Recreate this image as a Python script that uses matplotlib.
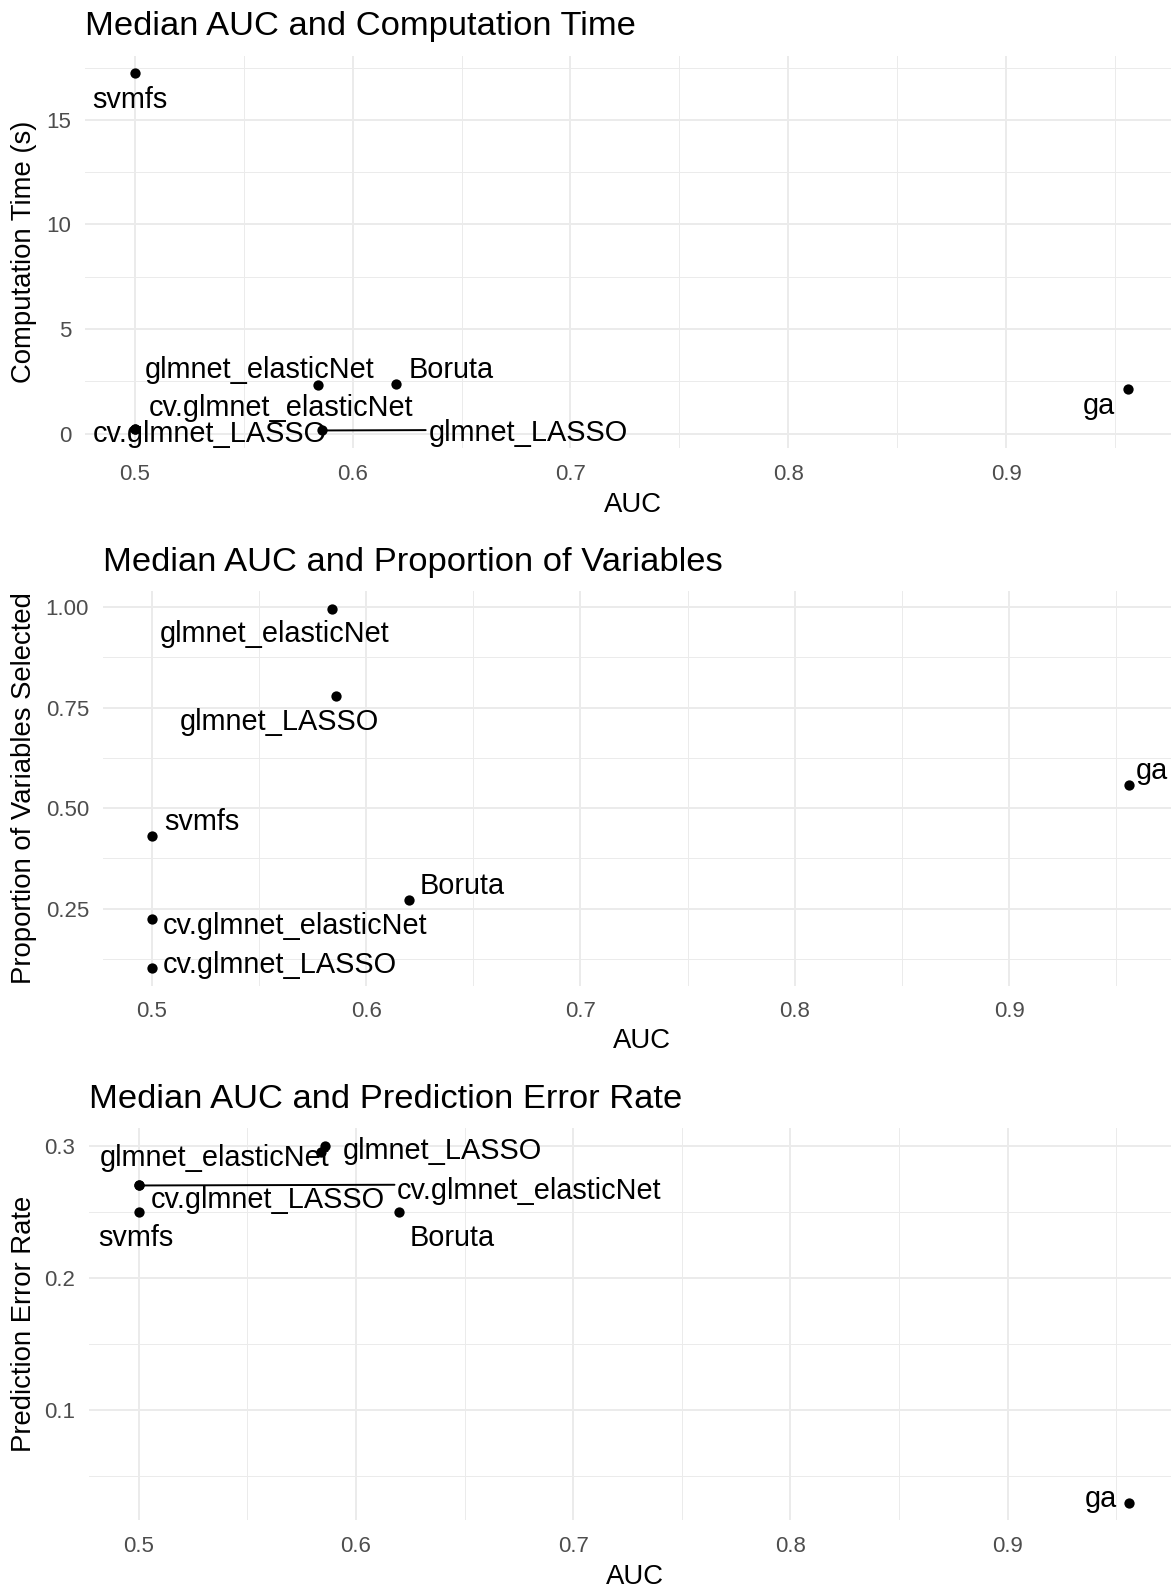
import matplotlib

matplotlib.use('agg')
import matplotlib.pyplot as plt

W, H = 1171, 1589

methods = ['svmfs', 'glmnet_elasticNet', 'Boruta', 'cv.glmnet_elasticNet',
           'cv.glmnet_LASSO', 'glmnet_LASSO', 'ga']
auc = [0.500, 0.584, 0.620, 0.500, 0.500, 0.586, 0.956]
comp_time = [17.22, 2.32, 2.37, 0.20, 0.24, 0.15, 2.13]
prop_selected = [0.432, 0.995, 0.273, 0.225, 0.104, 0.778, 0.558]
error_rate = [0.250, 0.295, 0.250, 0.270, 0.270, 0.300, 0.030]

auc_ticks = [0.5, 0.6, 0.7, 0.8, 0.9]
auc_minor = [0.55, 0.65, 0.75, 0.85, 0.95]
time_ticks = [0, 5, 10, 15]
time_minor = [2.5, 7.5, 12.5, 17.5]
prop_ticks = [0.25, 0.50, 0.75, 1.00]
prop_minor = [0.125, 0.375, 0.625, 0.875]
err_ticks = [0.1, 0.2, 0.3]
err_minor = [0.05, 0.15, 0.25]

# label offsets in pixels (dx right, dy up), roughly where ggrepel put them
time_offsets = {
    'svmfs': (-5, -24), 'glmnet_elasticNet': (-58, 18), 'Boruta': (55, 17),
    'cv.glmnet_elasticNet': (146, 24), 'cv.glmnet_LASSO': (75, -2),
    'glmnet_LASSO': (206, 0), 'ga': (-29, -14),
}
prop_offsets = {
    'svmfs': (50, 17), 'glmnet_elasticNet': (-57, -22), 'Boruta': (53, 17),
    'cv.glmnet_elasticNet': (143, -4), 'cv.glmnet_LASSO': (128, 6),
    'glmnet_LASSO': (-57, -23), 'ga': (23, 17),
}
err_offsets = {
    'svmfs': (-3, -23), 'glmnet_elasticNet': (-106, -3), 'Boruta': (53, -23),
    'cv.glmnet_elasticNet': (391, -3), 'cv.glmnet_LASSO': (129, -12),
    'glmnet_LASSO': (117, -2), 'ga': (-29, 7),
}

FONT = 'Liberation Sans'
GRID = '#EBEBEB'
TICK_COL = '#4D4D4D'
NUDGE = 3  # matplotlib centres on the full text box, ggplot on the glyphs


def draw_panel(fig, box, yvals, yticks, yminor, ylabels, title, ylabel,
               offsets, segments, title_y, xlabel_y):
    left, top, width, height = box
    ax = fig.add_axes([left / W, 1 - (top + height) / H, width / W, height / H])
    ax.set_facecolor('white')
    for s in ax.spines.values():
        s.set_visible(False)

    ax.scatter(auc, yvals, s=55, color='black', zorder=3, linewidths=0)
    ax.margins(x=0.05, y=0.05)

    ax.set_xticks(auc_ticks)
    ax.set_xticklabels([f'{v:g}' for v in auc_ticks])
    ax.set_xticks(auc_minor, minor=True)
    ax.set_yticks(yticks)
    ax.set_yticklabels(ylabels)
    ax.set_yticks(yminor, minor=True)
    ax.grid(which='major', color=GRID, linewidth=1.4)
    ax.grid(which='minor', color=GRID, linewidth=0.7)
    ax.set_axisbelow(True)
    ax.tick_params(which='both', length=0)
    ax.tick_params(axis='x', pad=11.5, labelsize=16, labelcolor=TICK_COL)
    ax.tick_params(axis='y', pad=10, labelsize=16, labelcolor=TICK_COL)
    for lab in ax.get_xticklabels() + ax.get_yticklabels():
        lab.set_family(FONT)

    for m, x, y in zip(methods, auc, yvals):
        dx, dy = offsets[m]
        props = None
        if m in segments:
            # keep the leader line level with the glyphs, not the text box
            props = dict(arrowstyle='-', color='black', lw=1.4,
                         shrinkA=0, shrinkB=0, relpos=(0, segments[m]))
        ax.annotate(m, xy=(x, y), xytext=(dx, dy - NUDGE), textcoords='offset pixels',
                    ha='center', va='center', fontsize=20.8, family=FONT,
                    color='black', arrowprops=props, zorder=4,
                    annotation_clip=False)

    fig.text(left / W, 1 - (title_y + NUDGE + 1) / H, title, fontsize=24.8,
             family=FONT, ha='left', va='center')
    fig.text((left + width / 2 + 1) / W, 1 - (xlabel_y + NUDGE) / H, 'AUC',
             fontsize=19.8, family=FONT, ha='center', va='center')
    fig.text(24 / W, 1 - (top + height / 2) / H, ylabel, fontsize=19.8,
             family=FONT, rotation=90, ha='center', va='center')
    return ax


fig = plt.figure(figsize=(W / 100, H / 100), dpi=100)
fig.patch.set_facecolor('white')

draw_panel(fig, (85, 55.6, 1093, 392.7), comp_time, time_ticks, time_minor,
           [str(v) for v in time_ticks], 'Median AUC and Computation Time',
           'Computation Time (s)', time_offsets, {'glmnet_LASSO': 0.62}, 22, 502)
draw_panel(fig, (103, 591, 1075, 394.5), prop_selected, prop_ticks, prop_minor,
           [f'{v:.2f}' for v in prop_ticks], 'Median AUC and Proportion of Variables',
           'Proportion of Variables Selected', prop_offsets, {}, 559, 1038)
draw_panel(fig, (89, 1128, 1090, 392.4), error_rate, err_ticks, err_minor,
           [f'{v:g}' for v in err_ticks], 'Median AUC and Prediction Error Rate',
           'Prediction Error Rate', err_offsets, {'cv.glmnet_elasticNet': 0.74},
           1096, 1574)

fig.savefig('out.png', dpi=100)
